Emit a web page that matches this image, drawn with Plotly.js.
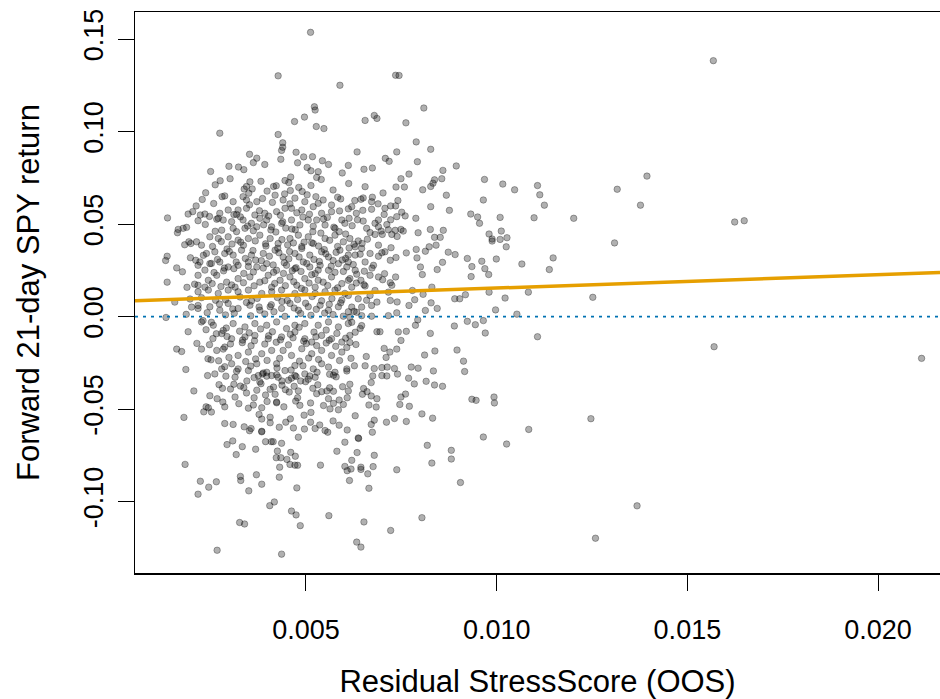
<!DOCTYPE html>
<html><head><meta charset="utf-8">
<script src="https://cdn.plot.ly/plotly-3.0.1.min.js"></script>
<style>html,body{margin:0;padding:0;background:#fff}#chart{width:940px;height:699px}</style>
</head><body><div id="chart"></div>
<script>
// ---- tick labels ----
const xTickVals = [0.005, 0.010, 0.015, 0.020];
const xTickText = ["0.005", "0.010", "0.015", "0.020"];
const yTickVals = [-0.10, -0.05, 0.00, 0.05, 0.10, 0.15];
const yTickText = ["-0.10", "-0.05", "0.00", "0.05", "0.10", "0.15"];

// ---- fitted regression line (intercept, slope) ----
const fitIntercept = 0.0082;
const fitSlope = 0.72;

// ---- observations: Residual StressScore (x) vs forward 21-day SPY return (y) ----
// upper cloud
const xUpper = [0.00512,0.00427,0.00589,0.00522,0.00524,0.00496,0.00470,0.00527,0.00547,0.00274,0.00427,0.00439,0.00439,0.00436,0.00352,0.00474,0.00494,0.00517,0.00362,0.00434,0.00559,0.00323,0.00250,0.00513,0.00532,0.00595,0.00528,0.00460,0.00445,0.00275,0.00353,0.00344,0.00359,0.00350,0.00415,0.00422,0.00513,0.00237,0.00280,0.00459,0.00490,0.00444,0.00419,0.00526,0.00591];
const yUpper = [0.1536,0.1301,0.1250,0.1134,0.1116,0.1078,0.1054,0.1027,0.1016,0.0991,0.0984,0.0939,0.0915,0.0898,0.0877,0.0888,0.0863,0.0864,0.0832,0.0850,0.0822,0.0808,0.0784,0.0788,0.0783,0.0776,0.0752,0.0754,0.0735,0.0734,0.0728,0.0703,0.0690,0.0667,0.0703,0.0707,0.0708,0.0669,0.0648,0.0681,0.0676,0.0663,0.0656,0.0648,0.0636];
// upper right
const xUpperRight = [0.00735,0.00744,0.00809,0.00679,0.00686,0.00655,0.00762,0.00789,0.00634,0.00738,0.00827,0.00708,0.00718,0.00792,0.00674,0.00894,0.00859,0.00770,0.00749,0.00837,0.00833,0.00856,0.00827,0.00736,0.00758,0.00806,0.00968,0.01016,0.01047,0.01107,0.01113,0.00868,0.00674,0.00650,0.00644,0.00965];
const yUpperRight = [0.1304,0.1303,0.1127,0.1087,0.1071,0.1060,0.1047,0.0944,0.0890,0.0890,0.0904,0.0855,0.0839,0.0837,0.0803,0.0814,0.0790,0.0770,0.0745,0.0739,0.0721,0.0745,0.0703,0.0700,0.0700,0.0685,0.0741,0.0716,0.0685,0.0708,0.0658,0.0656,0.0645,0.0641,0.0634,0.0630];
// sparse high scores
const xSparse = [0.01568,0.01394,0.01316,0.01377,0.01202,0.01624,0.01649,0.01309,0.01252,0.01570,0.02114,0.01247,0.01368,0.01259];
const ySparse = [0.1383,0.0759,0.0688,0.0602,0.0531,0.0511,0.0518,0.0398,0.0104,-0.0163,-0.0226,-0.0552,-0.1023,-0.1198];
// middle right
const xMidRight = [0.01125,0.00827,0.00876,0.00932,0.00950,0.00955,0.01009,0.01098,0.00788,0.00860,0.00826,0.00852,0.00837,0.00841,0.00823,0.00794,0.00980,0.00988,0.00988,0.01012,0.01009,0.01027,0.01025,0.00813,0.00789,0.00791,0.00763,0.00873,0.00891,0.00923,0.00961,0.00999,0.00858,0.01066,0.01148,0.01138,0.00800,0.00935,0.00969,0.00979,0.00933,0.00844,0.00805,0.00830,0.00807,0.00779,0.00918,0.00890,0.00903,0.00980,0.01022,0.01083,0.00785,0.00770,0.00828,0.00844,0.00813,0.00997,0.01053,0.00793,0.00787,0.00923,0.00944,0.00965,0.00889,0.00970,0.01107,0.00826,0.00763,0.00742,0.00749,0.00738,0.00705,0.00720,0.00838,0.00896,0.00811,0.00913,0.00658,0.00710,0.00776,0.00794,0.00834,0.00916,0.00699,0.00713,0.00732,0.00627,0.00655,0.00679,0.00607];
const yMidRight = [0.0602,0.0594,0.0574,0.0554,0.0538,0.0504,0.0536,0.0534,0.0531,0.0466,0.0471,0.0428,0.0428,0.0386,0.0377,0.0453,0.0446,0.0419,0.0408,0.0462,0.0417,0.0426,0.0377,0.0353,0.0363,0.0317,0.0344,0.0348,0.0335,0.0314,0.0299,0.0311,0.0293,0.0284,0.0317,0.0254,0.0268,0.0270,0.0259,0.0227,0.0216,0.0254,0.0227,0.0159,0.0120,0.0141,0.0118,0.0096,0.0096,0.0132,0.0100,0.0132,0.0091,0.0060,0.0074,0.0044,0.0033,0.0036,0.0013,-0.0018,-0.0047,-0.0026,-0.0044,-0.0022,-0.0051,-0.0089,-0.0109,-0.0091,-0.0080,-0.0083,-0.0129,-0.0176,-0.0172,-0.0192,-0.0186,-0.0181,-0.0208,-0.0241,-0.0216,-0.0221,-0.0273,-0.0279,-0.0294,-0.0297,-0.0276,-0.0273,-0.0281,-0.0266,-0.0266,-0.0281,-0.0294];
// middle (0.006-0.0075)
const xMid = [0.00672,0.00672,0.00707,0.00722,0.00735,0.00649,0.00611,0.00620,0.00751,0.00760,0.00738,0.00722,0.00690,0.00681,0.00690,0.00613,0.00635,0.00650,0.00659,0.00681,0.00697,0.00716,0.00734,0.00749,0.00755,0.00700,0.00725,0.00739,0.00615,0.00637,0.00690,0.00629,0.00707,0.00646,0.00668,0.00629,0.00721,0.00736,0.00690,0.00611,0.00655,0.00677,0.00629,0.00653,0.00706,0.00735,0.00668,0.00690,0.00611,0.00644,0.00721,0.00725,0.00620,0.00655,0.00681,0.00716,0.00611,0.00637,0.00668,0.00686,0.00721,0.00620,0.00646,0.00672,0.00633,0.00615,0.00646,0.00672,0.00716,0.00738,0.00620,0.00646,0.00629,0.00686,0.00694,0.00615,0.00607];
const yMid = [0.0621,0.0580,0.0585,0.0598,0.0598,0.0574,0.0582,0.0594,0.0564,0.0544,0.0540,0.0523,0.0522,0.0504,0.0485,0.0531,0.0523,0.0516,0.0477,0.0444,0.0462,0.0469,0.0466,0.0471,0.0462,0.0444,0.0444,0.0433,0.0422,0.0409,0.0386,0.0377,0.0350,0.0368,0.0341,0.0332,0.0304,0.0319,0.0326,0.0295,0.0295,0.0277,0.0250,0.0245,0.0232,0.0214,0.0223,0.0214,0.0196,0.0196,0.0183,0.0169,0.0159,0.0165,0.0141,0.0132,0.0114,0.0096,0.0114,0.0078,0.0087,0.0051,0.0051,0.0060,0.0023,-0.0004,0.0005,0.0002,0.0005,0.0020,-0.0031,-0.0049,-0.0085,-0.0082,-0.0082,-0.0140,-0.0167];
// low scores (left edge)
const xLeft = [0.00137,0.00191,0.00212,0.00235,0.00223,0.00217,0.00266,0.00270,0.00165,0.00178,0.00163,0.00198,0.00193,0.00136,0.00132,0.00161,0.00136,0.00188,0.00217,0.00217,0.00211,0.00217,0.00200,0.00217,0.00156,0.00133,0.00191,0.00161,0.00174,0.00226,0.00185,0.00251,0.00230,0.00252,0.00283];
const yLeft = [0.0533,0.0554,0.0598,0.0554,0.0549,0.0518,0.0526,0.0531,0.0471,0.0477,0.0453,0.0395,0.0404,0.0326,0.0303,0.0263,0.0186,0.0158,0.0223,0.0169,0.0304,0.0277,0.0051,0.0060,0.0078,-0.0005,-0.0082,-0.0176,-0.0189,-0.0176,-0.0286,-0.0234,-0.0022,-0.0031,-0.0176];
// core, positive returns
const xCoreHigh = [0.00335,0.00344,0.00371,0.00440,0.00471,0.00497,0.00545,0.00567,0.00309,0.00274,0.00296,0.00322,0.00344,0.00366,0.00392,0.00423,0.00445,0.00462,0.00489,0.00519,0.00541,0.00567,0.00594,0.00283,0.00305,0.00335,0.00357,0.00279,0.00309,0.00340,0.00371,0.00397,0.00410,0.00436,0.00462,0.00484,0.00506,0.00528,0.00550,0.00576,0.00602,0.00248,0.00270,0.00296,0.00322,0.00349,0.00379,0.00406,0.00427,0.00458,0.00480,0.00506,0.00519,0.00550,0.00576,0.00598,0.00213,0.00226,0.00239,0.00261,0.00287,0.00309,0.00331,0.00357,0.00388,0.00419,0.00440,0.00471,0.00489,0.00510,0.00541,0.00559,0.00589,0.00611,0.00222,0.00248,0.00274,0.00296,0.00322,0.00349,0.00371,0.00397,0.00423,0.00449,0.00471,0.00493,0.00510,0.00537,0.00559,0.00585,0.00607,0.00244,0.00266,0.00292,0.00322,0.00353,0.00379,0.00401,0.00432,0.00458,0.00476,0.00497,0.00524,0.00545,0.00567,0.00594,0.00615,0.00235,0.00314,0.00410,0.00524];
const yCoreHigh = [0.0648,0.0630,0.0621,0.0630,0.0640,0.0621,0.0630,0.0603,0.0621,0.0558,0.0576,0.0576,0.0585,0.0549,0.0558,0.0567,0.0585,0.0585,0.0576,0.0594,0.0558,0.0567,0.0522,0.0522,0.0513,0.0522,0.0504,0.0467,0.0477,0.0477,0.0485,0.0522,0.0485,0.0504,0.0522,0.0495,0.0522,0.0522,0.0495,0.0477,0.0504,0.0431,0.0422,0.0431,0.0413,0.0422,0.0440,0.0422,0.0395,0.0422,0.0440,0.0431,0.0395,0.0422,0.0440,0.0404,0.0404,0.0386,0.0341,0.0350,0.0341,0.0332,0.0359,0.0332,0.0341,0.0359,0.0322,0.0341,0.0368,0.0332,0.0350,0.0322,0.0359,0.0332,0.0295,0.0286,0.0295,0.0268,0.0277,0.0295,0.0268,0.0286,0.0250,0.0277,0.0259,0.0295,0.0268,0.0277,0.0250,0.0286,0.0268,0.0196,0.0223,0.0186,0.0205,0.0214,0.0186,0.0223,0.0196,0.0214,0.0169,0.0205,0.0232,0.0186,0.0214,0.0178,0.0205,0.0159,0.0159,0.0159,0.0159];
// core, around zero
const xCoreZero = [0.00217,0.00244,0.00270,0.00296,0.00322,0.00349,0.00384,0.00410,0.00436,0.00471,0.00497,0.00524,0.00550,0.00576,0.00602,0.00217,0.00248,0.00274,0.00296,0.00322,0.00353,0.00379,0.00406,0.00436,0.00458,0.00480,0.00506,0.00537,0.00559,0.00585,0.00611,0.00226,0.00257,0.00283,0.00309,0.00340,0.00366,0.00397,0.00423,0.00449,0.00471,0.00497,0.00532,0.00559,0.00585,0.00611,0.00279,0.00305,0.00340,0.00366,0.00401,0.00436,0.00471,0.00497,0.00515,0.00541,0.00567,0.00594,0.00615,0.00266,0.00287,0.00322,0.00349,0.00384,0.00410,0.00440,0.00462,0.00489,0.00515,0.00541,0.00567,0.00594,0.00279,0.00305,0.00322,0.00349,0.00371,0.00397,0.00423,0.00445,0.00471,0.00497,0.00519,0.00541,0.00559,0.00576,0.00607,0.00261,0.00314,0.00375,0.00427,0.00471,0.00524];
const yCoreZero = [0.0134,0.0143,0.0125,0.0143,0.0134,0.0143,0.0125,0.0134,0.0143,0.0125,0.0143,0.0125,0.0134,0.0143,0.0125,0.0044,0.0053,0.0034,0.0071,0.0044,0.0061,0.0034,0.0053,0.0044,0.0071,0.0034,0.0053,0.0061,0.0034,0.0053,0.0026,-0.0029,-0.0047,-0.0075,-0.0038,-0.0056,-0.0038,-0.0047,-0.0029,-0.0065,-0.0047,-0.0038,-0.0047,-0.0029,-0.0056,-0.0038,-0.0092,-0.0120,-0.0110,-0.0102,-0.0120,-0.0110,-0.0083,-0.0120,-0.0138,-0.0102,-0.0120,-0.0138,-0.0102,-0.0183,-0.0165,-0.0210,-0.0192,-0.0201,-0.0183,-0.0183,-0.0210,-0.0174,-0.0201,-0.0183,-0.0210,-0.0192,-0.0283,-0.0255,-0.0283,-0.0292,-0.0255,-0.0301,-0.0255,-0.0292,-0.0265,-0.0310,-0.0283,-0.0255,-0.0273,-0.0301,-0.0283,-0.0310,-0.0328,-0.0319,-0.0328,-0.0319,-0.0328];
// core, overlapping points (dense centre)
const xCoreDense = [
  0.00262,0.00301,0.00338,0.00382,0.00398,0.00455,0.00481,0.00540,0.00571,0.00612,0.00655,0.00702,
  0.00228,0.00258,0.00287,0.00352,0.00386,0.00412,0.00458,0.00503,0.00532,0.00583,0.00628,0.00689,0.00741,
  0.00203,0.00247,0.00311,0.00328,0.00378,0.00402,0.00433,0.00476,0.00509,0.00556,0.00588,0.00632,0.00705,
  0.00187,0.00236,0.00262,0.00318,0.00362,0.00389,0.00421,0.00447,0.00472,0.00519,0.00539,0.00587,0.00621,0.00668,0.00712,
  0.00182,0.00255,0.00278,0.00306,0.00336,0.00367,0.00395,0.00437,0.00452,0.00467,0.00495,0.00533,0.00562,0.00583,0.00626,0.00661,0.00723,
  0.00197,0.00231,0.00268,0.00299,0.00341,0.00368,0.00404,0.00429,0.00455,0.00482,0.00521,0.00552,0.00571,0.00604,0.00642,0.00699,
  0.00176,0.00235,0.00259,0.00284,0.00311,0.00337,0.00362,0.00388,0.00415,0.00441,0.00464,0.00487,0.00515,0.00532,0.00576,0.00598,0.00633,0.00673,
  0.00208,0.00254,0.00277,0.00305,0.00336,0.00364,0.00392,0.00418,0.00446,0.00468,0.00488,0.00508,0.00532,0.00557,0.00583,0.00632,0.00652,0.00701,
  0.00196,0.00226,0.00263,0.00289,0.00327,0.00357,0.00372,0.00425,0.00451,0.00478,0.00516,0.00541,0.00568,0.00594,0.00659,0.00739,
  0.00186,0.00241,0.00289,0.00312,0.00355,0.00392,0.00416,0.00445,0.00486,0.00513,0.00549,0.00571,0.00598,0.00626,
  0.00238,0.00265,0.00291,0.00326,0.00351,0.00381,0.00412,0.00459,0.00482,0.00521,0.00553,0.00581,0.00642,
  0.00214,0.00247,0.00302,0.00333,0.00356,0.00392,0.00422,0.00454,0.00501,0.00528,0.00553,0.00578,0.00631,
  0.00243,0.00271,0.00298,0.00342,0.00368,0.00398,0.00431,0.00483,0.00507,0.00533,0.00588,0.00618,
  0.00272,0.00302,0.00328,0.00371,0.00415,0.00446,0.00469,0.00531,0.00562,0.00596,0.00651,
  0.00282,0.00324,0.00349,0.00398,0.00442,0.00512,0.00546,0.00563,0.00598,
  0.00309,0.00338,0.00352,0.00447,0.00496,0.00536,0.00571,
  0.00298,0.00337,0.00371,0.00392,0.00478,0.00503,0.00543,0.00611,0.00652,
  0.00318,0.00347,0.00379,0.00408,0.00439,0.00463,0.00492,0.00518,0.00546,0.00573,0.00604,
  0.00293,0.00329,0.00361,0.00394,0.00426,0.00457,0.00489,0.00515,0.00548,0.00579,0.00613,0.00647,
  0.00252,0.00286,0.00317,0.00349,0.00383,0.00414,0.00443,0.00474,0.00502,0.00535,0.00566,0.00595,0.00624,
  0.00273,0.00308,0.00344,0.00377,0.00409,0.00437,0.00469,0.00499,0.00527,0.00561,0.00591,
  0.00256,0.00293,0.00334,0.00365,0.00402,0.00433,0.00466,0.00494,0.00526,0.00561,0.00604,
  0.00287,0.00318,0.00355,0.00388,0.00424,0.00461,0.00492,0.00529,0.00562];
const yCoreDense = [
  0.0712,0.0745,0.0689,0.0731,0.0678,0.0724,0.0698,0.0741,0.0684,0.0719,0.0702,0.0668,
  0.0633,0.0611,0.0652,0.0604,0.0638,0.0617,0.0609,0.0658,0.0612,0.0645,0.0627,0.0609,0.0627,
  0.0567,0.0541,0.0551,0.0539,0.0572,0.0543,0.0547,0.0561,0.0553,0.0536,0.0571,0.0558,0.0552,
  0.0482,0.0498,0.0461,0.0459,0.0464,0.0496,0.0457,0.0478,0.0469,0.0488,0.0451,0.0459,0.0491,0.0454,0.0497,
  0.0388,0.0379,0.0405,0.0392,0.0385,0.0409,0.0381,0.0416,0.0387,0.0398,0.0402,0.0381,0.0412,0.0379,0.0391,0.0418,0.0372,
  0.0318,0.0331,0.0309,0.0352,0.0314,0.0305,0.0326,0.0345,0.0312,0.0322,0.0309,0.0339,0.0303,0.0314,0.0337,0.0345,
  0.0242,0.0251,0.0238,0.0247,0.0259,0.0233,0.0241,0.0262,0.0239,0.0233,0.0248,0.0244,0.0226,0.0251,0.0239,0.0244,0.0229,0.0262,
  0.0175,0.0178,0.0162,0.0171,0.0183,0.0166,0.0194,0.0179,0.0167,0.0188,0.0152,0.0181,0.0196,0.0168,0.0155,0.0181,0.0172,0.0199,
  0.0095,0.0102,0.0088,0.0091,0.0106,0.0084,0.0098,0.0103,0.0087,0.0092,0.0108,0.0085,0.0097,0.0089,0.0088,0.0079,
  0.0012,0.0021,0.0009,0.0018,0.0004,0.0014,0.0026,0.0001,0.0017,0.0007,0.0019,0.0011,0.0002,0.0028,
  -0.0071,-0.0093,-0.0062,-0.0079,-0.0088,-0.0067,-0.0082,-0.0096,-0.0058,-0.0084,-0.0073,-0.0091,-0.0064,
  -0.0145,-0.0152,-0.0148,-0.0141,-0.0158,-0.0149,-0.0139,-0.0153,-0.0146,-0.0157,-0.0143,-0.0161,-0.0151,
  -0.0228,-0.0239,-0.0221,-0.0243,-0.0229,-0.0237,-0.0226,-0.0241,-0.0224,-0.0232,-0.0238,-0.0226,
  -0.0368,-0.0392,-0.0376,-0.0398,-0.0381,-0.0395,-0.0377,-0.0369,-0.0385,-0.0379,-0.0389,
  -0.0462,-0.0471,-0.0495,-0.0459,-0.0488,-0.0467,-0.0481,-0.0499,-0.0475,
  -0.0583,-0.0596,-0.0617,-0.0571,-0.0608,-0.0586,-0.0564,
  0.0812,0.0794,0.0856,0.0822,0.0831,0.0806,0.0842,0.0817,0.0796,
  0.0552,0.0489,0.0531,0.0468,0.0512,0.0473,0.0538,0.0459,0.0527,0.0483,0.0446,
  0.0365,0.0402,0.0357,0.0393,0.0369,0.0351,0.0378,0.0399,0.0362,0.0347,0.0371,0.0395,
  0.0287,0.0262,0.0295,0.0271,0.0302,0.0279,0.0291,0.0264,0.0287,0.0298,0.0272,0.0306,0.0281,
  0.0068,0.0041,0.0076,0.0052,0.0064,0.0081,0.0046,0.0072,0.0039,0.0066,0.0074,
  -0.0119,-0.0108,-0.0127,-0.0131,-0.0104,-0.0126,-0.0115,-0.0133,-0.0109,-0.0128,-0.0117,
  -0.0271,-0.0296,-0.0268,-0.0305,-0.0278,-0.0289,-0.0266,-0.0301,-0.0312];
// lower cloud (left)
const xLower = [0.00206,0.00180,0.00183,0.00223,0.00245,0.00217,0.00265,0.00267,0.00248,0.00267,0.00238,0.00244,0.00232,0.00252,0.00287,0.00281,0.00242,0.00290,0.00311,0.00314,0.00287,0.00293,0.00308,0.00317,0.00333,0.00368,0.00356,0.00328,0.00329,0.00350,0.00370,0.00384,0.00326,0.00339,0.00405,0.00417,0.00436,0.00462,0.00474,0.00485,0.00476,0.00430,0.00431,0.00422,0.00434,0.00450,0.00458,0.00471,0.00478,0.00425,0.00460,0.00472,0.00394,0.00409,0.00414,0.00436,0.00384,0.00384,0.00430,0.00467,0.00480,0.00406,0.00406,0.00384,0.00377,0.00459,0.00362,0.00384,0.00364,0.00394,0.00406,0.00419,0.00423,0.00423,0.00456,0.00480,0.00478,0.00473,0.00484,0.00495,0.00513,0.00512,0.00524,0.00550,0.00557,0.00538,0.00560,0.00581,0.00602,0.00587,0.00608,0.00602,0.00608,0.00614,0.00518,0.00528,0.00541,0.00555,0.00572,0.00559,0.00572,0.00585,0.00587,0.00506,0.00510,0.00486,0.00499,0.00386,0.00397,0.00410,0.00423,0.00379,0.00382,0.00437,0.00437,0.00454,0.00462,0.00474,0.00345,0.00364,0.00337,0.00344,0.00579,0.00572,0.00615,0.00611,0.00608];
const yLower = [-0.0402,-0.0545,-0.0799,-0.0890,-0.0922,-0.0960,-0.0893,-0.1263,-0.0428,-0.0444,-0.0488,-0.0493,-0.0515,-0.0516,-0.0488,-0.0388,-0.0319,-0.0322,-0.0366,-0.0435,-0.0578,-0.0692,-0.0672,-0.0746,-0.0703,-0.0717,-0.0605,-0.0864,-0.0886,-0.0942,-0.0855,-0.0906,-0.1113,-0.1121,-0.1022,-0.1002,-0.1284,-0.1051,-0.1072,-0.1130,-0.0926,-0.0868,-0.0814,-0.0763,-0.0763,-0.0772,-0.0799,-0.0803,-0.0804,-0.0727,-0.0734,-0.0755,-0.0676,-0.0676,-0.0676,-0.0685,-0.0620,-0.0623,-0.0598,-0.0602,-0.0652,-0.0544,-0.0574,-0.0554,-0.0529,-0.0553,-0.0478,-0.0493,-0.0439,-0.0424,-0.0393,-0.0420,-0.0466,-0.0462,-0.0408,-0.0402,-0.0439,-0.0457,-0.0480,-0.0533,-0.0518,-0.0571,-0.0605,-0.0616,-0.0625,-0.0803,-0.1076,-0.0728,-0.0679,-0.0587,-0.0613,-0.0810,-0.0833,-0.0886,-0.0388,-0.0417,-0.0406,-0.0402,-0.0404,-0.0444,-0.0469,-0.0504,-0.0451,-0.0339,-0.0321,-0.0348,-0.0352,-0.0311,-0.0322,-0.0319,-0.0315,-0.0353,-0.0363,-0.0348,-0.0371,-0.0344,-0.0333,-0.0324,-0.0348,-0.0330,-0.0384,-0.0413,-0.0326,-0.0317,-0.0366,-0.0402,-0.0439];
// lower cloud (right)
const xLowerRight = [0.00648,0.00660,0.00671,0.00686,0.00671,0.00675,0.00699,0.00712,0.00740,0.00769,0.00784,0.00815,0.00837,0.00858,0.00665,0.00684,0.00749,0.00761,0.00746,0.00771,0.00629,0.00679,0.00671,0.00711,0.00732,0.00763,0.00804,0.00832,0.00935,0.00946,0.00993,0.00994,0.00674,0.00637,0.00638,0.00965,0.01026,0.01084,0.00818,0.00881,0.00881,0.00830,0.00634,0.00679,0.00620,0.00618,0.00644,0.00644,0.00676,0.00662,0.00738,0.00665,0.00905,0.00652,0.00722,0.00804,0.00633,0.00644];
const yLowerRight = [-0.0420,-0.0406,-0.0429,-0.0444,-0.0357,-0.0321,-0.0319,-0.0321,-0.0311,-0.0333,-0.0364,-0.0350,-0.0370,-0.0377,-0.0478,-0.0489,-0.0435,-0.0419,-0.0475,-0.0485,-0.0536,-0.0560,-0.0583,-0.0571,-0.0551,-0.0567,-0.0526,-0.0549,-0.0447,-0.0453,-0.0435,-0.0467,-0.0625,-0.0656,-0.0659,-0.0651,-0.0689,-0.0610,-0.0696,-0.0723,-0.0770,-0.0792,-0.0735,-0.0750,-0.0777,-0.0824,-0.0814,-0.0826,-0.0811,-0.0850,-0.0828,-0.0928,-0.0897,-0.1110,-0.1156,-0.1087,-0.1219,-0.1246];

const stressScore = [].concat(xUpper, xUpperRight, xSparse, xMidRight, xMid, xLeft, xCoreHigh, xCoreZero, xCoreDense, xLower, xLowerRight);
const fwdReturn = [].concat(yUpper, yUpperRight, ySparse, yMidRight, yMid, yLeft, yCoreHigh, yCoreZero, yCoreDense, yLower, yLowerRight);

const xRange = [0.000517, 0.021623];
const yRange = [-0.1386, 0.1646];

const fitX = xRange.slice();
const fitY = fitX.map(v => fitIntercept + fitSlope * v);

const font = "Liberation Sans, Arial, Helvetica, sans-serif";

const traces = [
  {
    type: "scatter", mode: "markers", x: stressScore, y: fwdReturn,
    marker: { size: 6.5, color: "rgba(0,0,0,0.31)", line: { color: "rgba(0,0,0,0.3)", width: 1 } },
    hoverinfo: "x+y", showlegend: false
  },
  {
    type: "scatter", mode: "lines", x: fitX, y: fitY,
    line: { color: "#E69F00", width: 3.5 }, hoverinfo: "skip", showlegend: false
  }
];

const layout = {
  width: 940, height: 699,
  margin: { l: 135, r: 0, t: 12, b: 126 },
  paper_bgcolor: "#ffffff", plot_bgcolor: "#ffffff",
  font: { family: font, color: "#000000", size: 28 },
  showlegend: false,
  xaxis: {
    range: xRange, autorange: false,
    tickvals: xTickVals, ticktext: xTickText,
    ticks: "outside", ticklen: 16, tickwidth: 1, tickcolor: "#000",
    showline: true, linecolor: "#000", linewidth: 1.5, mirror: true,
    showgrid: false, zeroline: false,
    tickfont: { family: font, size: 27, color: "#000" },
    ticklabelstandoff: 16,
    automargin: false,
    title: { text: "Residual StressScore (OOS)", font: { family: font, size: 31, color: "#000" }, standoff: 27 }
  },
  yaxis: {
    range: yRange, autorange: false,
    tickvals: yTickVals, ticktext: yTickText, tickangle: -90,
    ticks: "outside", ticklen: 16, tickwidth: 1, tickcolor: "#000",
    showline: true, linecolor: "#000", linewidth: 1.5, mirror: false,
    showgrid: false, zeroline: false,
    tickfont: { family: font, size: 27, color: "#000" },
    ticklabelstandoff: 4,
    automargin: false,
    title: { text: "Forward 21-day SPY return", font: { family: font, size: 31, color: "#000" }, standoff: 30 }
  },
  shapes: [
    { type: "line", xref: "paper", yref: "y", x0: 0, x1: 1, y0: 0, y1: 0,
      line: { color: "#0072B2", width: 1.7, dash: "3px,5px" }, layer: "above" }
  ]
};

Plotly.newPlot("chart", traces, layout, { displayModeBar: false, staticPlot: true });
</script>
</body></html>
